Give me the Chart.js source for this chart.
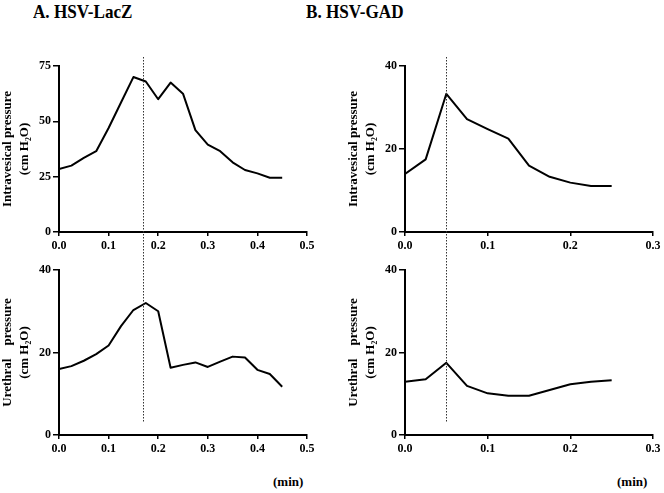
<!DOCTYPE html>
<html>
<head>
<meta charset="utf-8">
<script src="https://cdn.jsdelivr.net/npm/chart.js@4"></script>
<style>
  body { margin: 0; background: #fff; }
  #page { position: relative; width: 664px; height: 493px; overflow: hidden; font-family: 'Liberation Serif', 'Times New Roman', serif; }
  canvas { position: absolute; }
  .head { position: absolute; font-weight: bold; font-size: 19px; line-height: 19px; transform: scaleX(0.9); transform-origin: left top; white-space: nowrap; }
  .unit { position: absolute; font-weight: bold; font-size: 13px; line-height: 13px; }
</style>
</head>
<body>
<div id="page">
  <div class="head" style="left:33px; top:2px">A. HSV-LacZ</div>
  <div class="head" style="left:306px; top:2px">B. HSV-GAD</div>
  <canvas id="aTop" width="330" height="215" style="left:0; top:40px"></canvas>
  <canvas id="aBottom" width="330" height="205" style="left:0; top:255px"></canvas>
  <canvas id="bTop" width="334" height="215" style="left:330px; top:40px"></canvas>
  <canvas id="bBottom" width="334" height="205" style="left:330px; top:255px"></canvas>
  <div class="unit" style="left:273px; top:475px">(min)</div>
  <div class="unit" style="left:617px; top:475px">(min)</div>
</div>
<script>
// time points (min)
const lacZTimes = [0, 0.025, 0.05, 0.075, 0.1, 0.125, 0.15, 0.175, 0.2, 0.225, 0.25, 0.275, 0.3, 0.325, 0.35, 0.375, 0.4, 0.425, 0.45];
const gadTimes = [0, 0.025, 0.05, 0.075, 0.1, 0.125, 0.15, 0.175, 0.2, 0.225, 0.25];

// pressures (cm H2O)
const lacZVesical = [28.5, 30, 33.5, 36.5, 47, 58.5, 70, 68, 60, 67.5, 62.5, 46, 39.5, 36.5, 31.5, 28, 26.5, 24.5, 24.5];
const lacZUrethral = [16, 16.7, 18, 19.6, 21.7, 26.4, 30.3, 32, 30, 16.3, 17, 17.6, 16.5, 17.8, 19, 18.8, 15.8, 14.8, 11.7];
const gadVesical = [14, 17.5, 33.3, 27.2, 24.8, 22.5, 16, 13.3, 11.9, 11.1, 11.1];
const gadUrethral = [12.9, 13.5, 17.5, 11.9, 10.1, 9.5, 9.5, 10.9, 12.3, 12.9, 13.3];

// moment of the vertical marker
const lacZMark = 0.17;
const gadMark = 0.05;

const vesicalTitle = ['Intravesical pressure', '(cm H\u2082O)'];
const urethralTitle = ['Urethral\u00a0\u00a0\u00a0\u00a0pressure', '(cm H\u2082O)'];

Chart.defaults.font.family = "'Liberation Serif', 'Times New Roman', serif";
Chart.defaults.color = '#000';

// dotted vertical line running between the upper and lower panel
const markerLine = {
  id: 'marker',
  afterDatasetsDraw(chart, args, opts) {
    const { ctx, chartArea } = chart;
    const x = chart.scales.x.getPixelForValue(opts.value);
    const y1 = opts.upper ? chartArea.top - 9 : 0;
    const y2 = opts.upper ? chart.height : chartArea.bottom - 13;
    ctx.save();
    ctx.beginPath();
    ctx.setLineDash([1.5, 1.5]);
    ctx.lineWidth = 1;
    ctx.strokeStyle = '#333';
    ctx.moveTo(Math.round(x) + 0.5, y1);
    ctx.lineTo(Math.round(x) + 0.5, y2);
    ctx.stroke();
    ctx.restore();
  }
};

const axisLook = (tickLength) => ({
  grid: { display: true, drawOnChartArea: false, drawTicks: true, tickLength, color: '#000', lineWidth: 1.5 },
  border: { display: true, color: '#000', width: 2 },
});

function makePanel(id, times, values, opts) {
  const data = times.map((t, i) => ({ x: t, y: values[i] }));
  new Chart(document.getElementById(id), {
    type: 'line',
    data: {
      datasets: [{
        data,
        borderColor: '#000',
        borderWidth: 2,
        pointRadius: 0,
        tension: 0,
        fill: false,
        borderJoinStyle: 'round',
      }]
    },
    options: {
      responsive: false,
      animation: false,
      devicePixelRatio: 1,
      layout: { padding: opts.padding },
      scales: {
        x: {
          type: 'linear',
          min: 0,
          max: opts.xMax,
          ...axisLook(4),
          ticks: { stepSize: 0.1, padding: 3, font: { size: 12, weight: 'bold' }, callback: v => v.toFixed(1) },
          afterFit: (scale) => { scale.height = opts.xHeight; },
        },
        y: {
          min: 0,
          max: opts.yMax,
          ...axisLook(6),
          ticks: { stepSize: opts.yStep, padding: 2, font: { size: 12, weight: 'bold' } },
          title: { display: true, text: opts.title, padding: 0, font: { size: 13, weight: 'bold', lineHeight: 1.25 } },
          afterFit: (scale) => { scale.width = 59; },
        }
      },
      plugins: {
        legend: { display: false },
        tooltip: { enabled: false },
        marker: { value: opts.mark, upper: opts.upper },
      }
    },
    plugins: [markerLine]
  });
}

makePanel('aTop', lacZTimes, lacZVesical, {
  xMax: 0.5, yMax: 75, yStep: 25, title: vesicalTitle, mark: lacZMark, upper: true,
  padding: { top: 26, left: 0, right: 23, bottom: 0 }, xHeight: 23,
});
makePanel('aBottom', lacZTimes, lacZUrethral, {
  xMax: 0.5, yMax: 40, yStep: 20, title: urethralTitle, mark: lacZMark, upper: false,
  padding: { top: 15, left: 0, right: 23, bottom: 0 }, xHeight: 25,
});
makePanel('bTop', gadTimes, gadVesical, {
  xMax: 0.3, yMax: 40, yStep: 20, title: vesicalTitle, mark: gadMark, upper: true,
  padding: { top: 26, left: 16, right: 11, bottom: 0 }, xHeight: 23,
});
makePanel('bBottom', gadTimes, gadUrethral, {
  xMax: 0.3, yMax: 40, yStep: 20, title: urethralTitle, mark: gadMark, upper: false,
  padding: { top: 15, left: 16, right: 11, bottom: 0 }, xHeight: 25,
});
</script>
</body>
</html>
